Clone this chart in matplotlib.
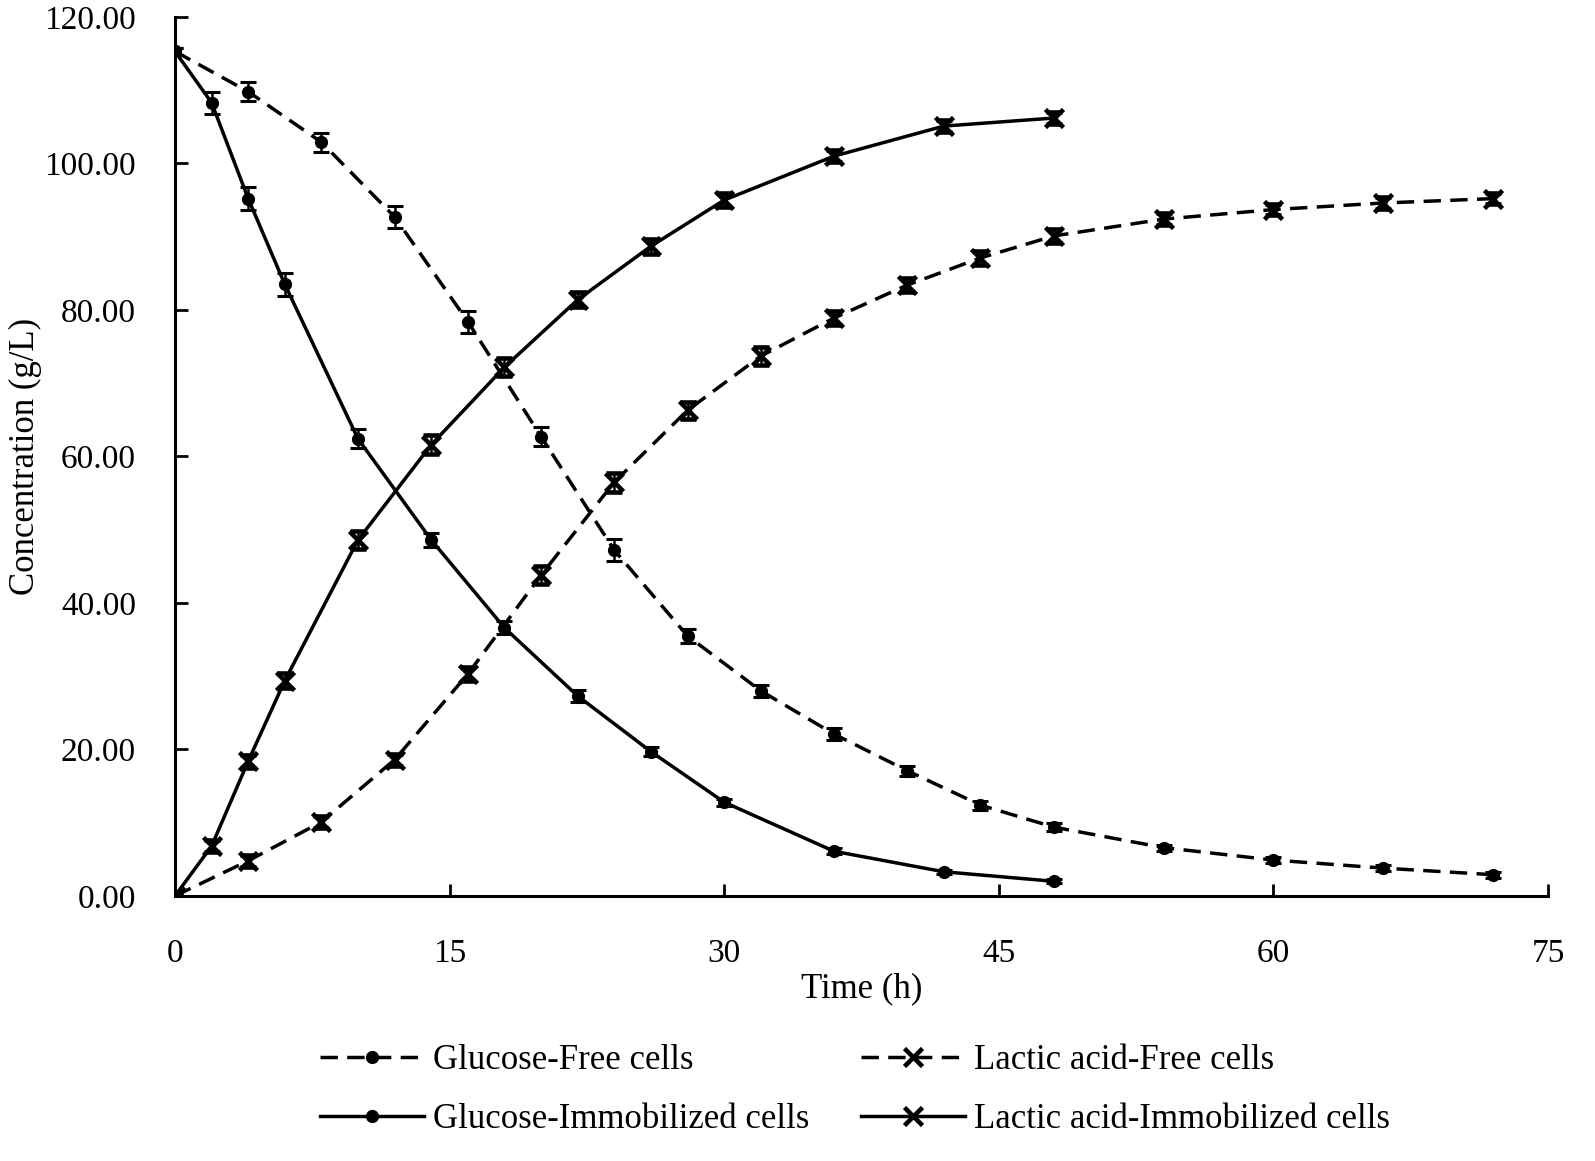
import matplotlib
matplotlib.use("Agg")
import matplotlib.pyplot as plt
from matplotlib.lines import Line2D

# Time points (h)
t_free = [0, 4, 8, 12, 16, 20, 24, 28, 32, 36, 40, 44, 48, 54, 60, 66, 72]
t_imm = [0, 2, 4, 6, 10, 14, 18, 22, 26, 30, 36, 42, 48]

# Concentrations (g/L)
glucose_free = [115.3, 109.8, 102.9, 92.7, 78.4, 62.7, 47.2, 35.5, 28.0, 22.1, 17.1, 12.4, 9.4, 6.6, 4.9, 3.8, 2.9]
glucose_free_err = [0.5, 1.3, 1.3, 1.5, 1.5, 1.3, 1.5, 1.0, 0.8, 0.8, 0.7, 0.6, 0.5, 0.4, 0.4, 0.4, 0.4]
lactic_free = [0.0, 4.8, 10.1, 18.6, 30.3, 43.8, 56.5, 66.3, 73.7, 78.9, 83.4, 87.1, 90.1, 92.4, 93.7, 94.6, 95.2]
lactic_free_err = [0.3, 0.8, 0.8, 0.8, 1.0, 1.2, 1.3, 1.2, 1.2, 1.0, 1.0, 1.0, 0.9, 0.8, 0.8, 0.8, 0.8]

glucose_imm = [115.3, 108.3, 95.2, 83.5, 62.4, 48.6, 36.6, 27.3, 19.7, 12.8, 6.1, 3.3, 2.0]
glucose_imm_err = [0.5, 1.5, 1.6, 1.6, 1.3, 1.0, 0.9, 0.8, 0.6, 0.5, 0.4, 0.3, 0.3]
lactic_imm = [0.0, 6.8, 18.4, 29.4, 48.6, 61.6, 72.2, 81.4, 88.7, 95.0, 101.0, 105.1, 106.2]
lactic_imm_err = [0.3, 0.8, 0.9, 1.0, 1.2, 1.3, 1.2, 1.0, 1.0, 0.9, 0.8, 0.8, 0.8]

labels = ['Glucose-Free cells', 'Glucose-Immobilized cells',
          'Lactic acid-Free cells', 'Lactic acid-Immobilized cells']

plt.rcParams['font.family'] = ['Liberation Serif', 'DejaVu Serif']

fig = plt.figure(figsize=(15.95, 11.61), dpi=100)
ax = fig.add_axes([0.1097, 0.2283, 0.8608, 0.7571])

dash = (5, 2.7)
lw = 2.5
common = dict(color='black', ecolor='black', elinewidth=1.8, capsize=6, capthick=2.2, lw=lw)

ax.errorbar(t_free, glucose_free, yerr=glucose_free_err, marker='o', ms=8.5,
            dashes=dash, **common)
ax.errorbar(t_imm, glucose_imm, yerr=glucose_imm_err, marker='o', ms=8.5, **common)
ax.errorbar(t_free, lactic_free, yerr=lactic_free_err, marker='x', ms=12.5, mew=3.3,
            dashes=dash, **common)
ax.errorbar(t_imm, lactic_imm, yerr=lactic_imm_err, marker='x', ms=12.5, mew=3.3, **common)

ax.set_xlim(0, 75)
ax.set_ylim(0, 120)
ax.set_xticks([0, 15, 30, 45, 60, 75])
ax.set_yticks([0, 20, 40, 60, 80, 100, 120])
ax.set_yticklabels([f"{v:.2f}" for v in [0, 20, 40, 60, 80, 100, 120]])

for s in ['top', 'right']:
    ax.spines[s].set_visible(False)
for s in ['left', 'bottom']:
    ax.spines[s].set_linewidth(2.2)

ax.tick_params(direction='in', length=9, width=2, labelsize=24)
ax.tick_params(axis='y', pad=28)
ax.tick_params(axis='x', pad=31)
ax.set_xlabel('Time (h)', fontsize=25, labelpad=2)
ax.set_ylabel('Concentration (g/L)', fontsize=25, labelpad=2)

# legend handles without error bars
handles = [
    Line2D([], [], color='black', lw=lw, dashes=dash, marker='o', ms=8.5),
    Line2D([], [], color='black', lw=lw, marker='o', ms=8.5),
    Line2D([], [], color='black', lw=lw, dashes=dash, marker='x', ms=12.5, mew=3.3),
    Line2D([], [], color='black', lw=lw, marker='x', ms=12.5, mew=3.3),
]
fig.legend(handles, labels, loc='center', bbox_to_anchor=(0.536, 0.061), ncol=2,
           frameon=False, fontsize=25, handlelength=3.0, columnspacing=1.5,
           labelspacing=0.75, handletextpad=0.25)

fig.savefig('out.png', dpi=100)
